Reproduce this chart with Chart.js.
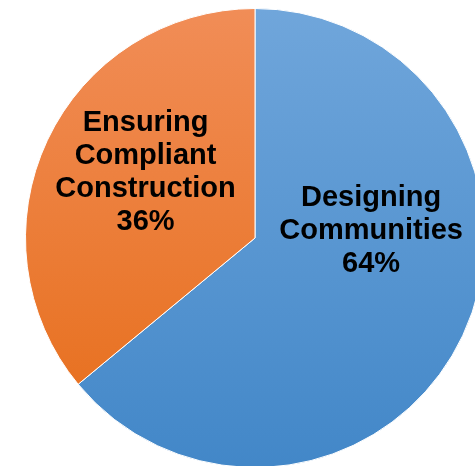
<!DOCTYPE html>
<html>
<head>
<meta charset="utf-8">
<script src="https://cdn.jsdelivr.net/npm/chart.js@4"></script>
<style>
  html, body { margin: 0; padding: 0; background: #fff; overflow: hidden; width: 475px; height: 466px; }
  #wrap { position: absolute; left: 25px; top: 8px; }
</style>
</head>
<body>
<div id="wrap"><canvas id="chart-pie" width="460" height="460"></canvas></div>
<script>
// Slice data
const labels = [['Designing', 'Communities'], ['Ensuring', 'Compliant', 'Construction']];
const values = [64, 36];
const topColors = ['#70a6db', '#f18d57'];
const bottomColors = ['#4287c8', '#e66c17'];

function sliceFill(ctx) {
  const area = ctx.chart.chartArea;
  if (!area) return topColors[ctx.dataIndex];
  const g = ctx.chart.ctx.createLinearGradient(0, area.top, 0, area.bottom);
  g.addColorStop(0, topColors[ctx.dataIndex]);
  g.addColorStop(1, bottomColors[ctx.dataIndex]);
  return g;
}

// label anchors relative to pie centre, as fraction of radius
const LABEL_POS = [[0.506, -0.032], [-0.477, -0.285]];

const sliceLabels = {
  id: 'sliceLabels',
  afterDatasetsDraw(chart) {
    const c = chart.ctx;
    const meta = chart.getDatasetMeta(0);
    const total = values.reduce((a, b) => a + b, 0);
    c.save();
    c.fillStyle = '#000';
    c.font = 'bold 29px "Liberation Sans", Arial, sans-serif';
    c.textAlign = 'center';
    c.textBaseline = 'middle';
    meta.data.forEach((arc, i) => {
      const r = arc.outerRadius;
      const cx = arc.x + LABEL_POS[i][0] * r;
      const cy = arc.y + LABEL_POS[i][1] * r;
      const lines = [...labels[i], Math.round(values[i] / total * 100) + '%'];
      const lh = 33;
      const y0 = cy - (lines.length - 1) * lh / 2;
      lines.forEach((t, k) => c.fillText(t, cx, y0 + k * lh));
    });
    c.restore();
  }
};

new Chart(document.getElementById('chart-pie'), {
  type: 'pie',
  data: {
    labels: labels.map(l => l.join(' ')),
    datasets: [{
      data: values,
      backgroundColor: sliceFill,
      borderColor: '#ffffff',
      borderWidth: 1,
    }],
  },
  options: {
    responsive: false,
    animation: false,
    plugins: {
      legend: { display: false },
      tooltip: { enabled: false },
    },
  },
  plugins: [sliceLabels],
});
</script>
</body>
</html>
